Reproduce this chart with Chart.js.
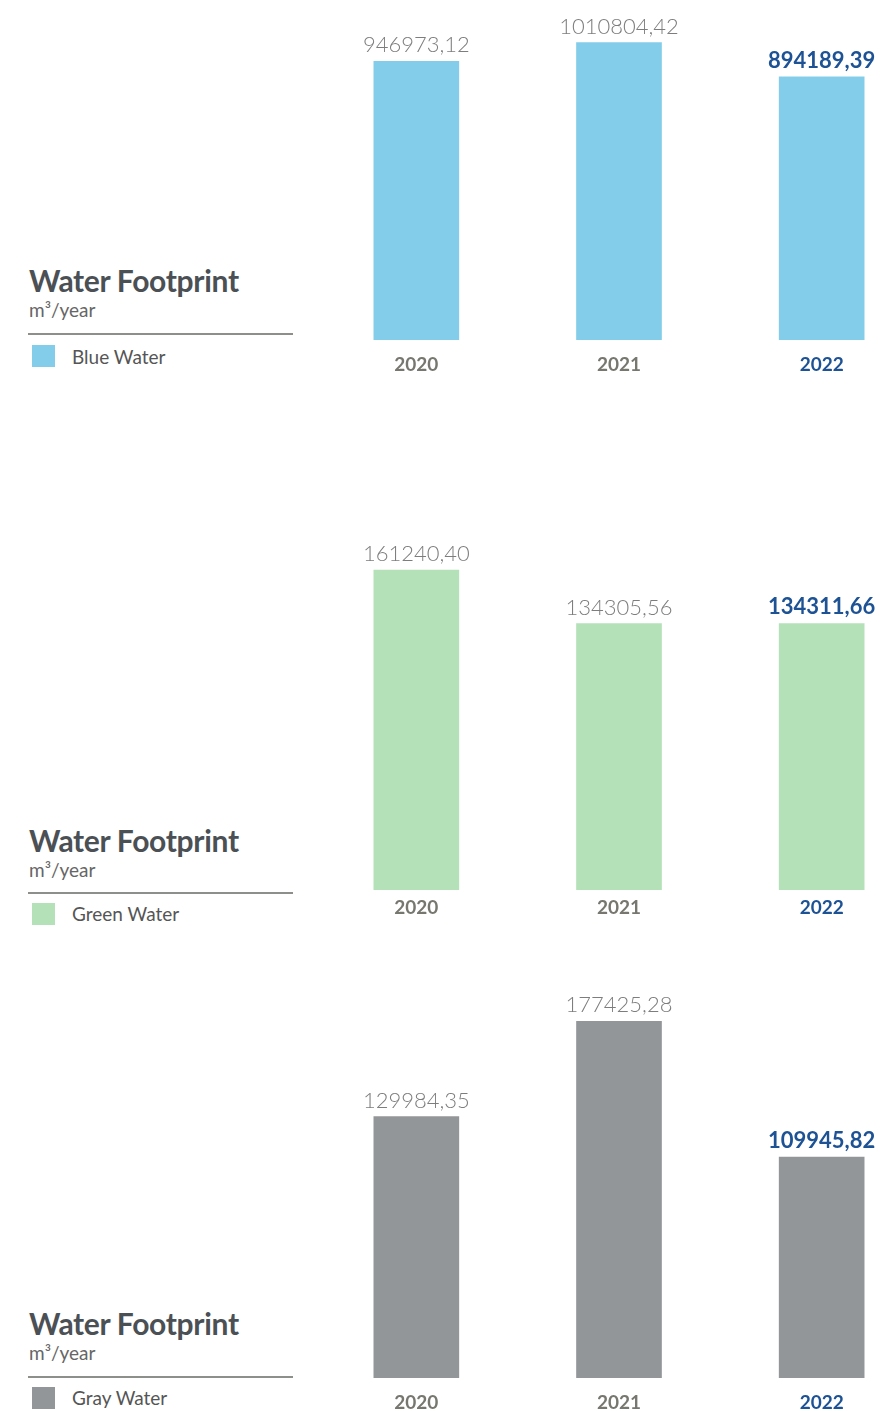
<!DOCTYPE html>
<html>
<head>
<meta charset="utf-8">
<script src="https://cdn.jsdelivr.net/npm/chart.js@4/dist/chart.umd.min.js"></script>
<style>
  html, body { margin: 0; padding: 0; background: #fff; overflow: hidden; }
  body { width: 889px; height: 1411px; position: relative; font-family: Lato, "Open Sans", sans-serif; }
  .box { position: absolute; left: 315px; width: 608px; }
  .title { position: absolute; left: 29px; font-size: 30px; font-weight: 700; color: #4b5055; line-height: 34px; letter-spacing: -0.3px; }
  .unit { position: absolute; left: 29px; font-size: 19px; color: #666; line-height: 24px; }
  .rule { position: absolute; left: 28px; width: 265px; height: 2px; background: #8c8f8a; }
  .sw { position: absolute; left: 32px; width: 23px; height: 22px; }
  .lab { position: absolute; left: 72px; font-size: 19px; color: #555; line-height: 24px; }
</style>
</head>
<body>

<!-- bloques de leyenda -->
<div class="title" style="top:263px">Water Footprint</div>
<div class="unit" style="top:298px">m³/year</div>
<div class="rule" style="top:333px"></div>
<div class="sw" style="top:345px;background:#84cdea"></div>
<div class="lab" style="top:345px">Blue Water</div>

<div class="title" style="top:823px">Water Footprint</div>
<div class="unit" style="top:858px">m³/year</div>
<div class="rule" style="top:892px"></div>
<div class="sw" style="top:903px;background:#b4e1b8"></div>
<div class="lab" style="top:902px">Green Water</div>

<div class="title" style="top:1306px">Water Footprint</div>
<div class="unit" style="top:1341px">m³/year</div>
<div class="rule" style="top:1376px"></div>
<div class="sw" style="top:1387px;background:#939699"></div>
<div class="lab" style="top:1386px">Gray Water</div>

<div class="box" style="top:0px;height:380px"><canvas id="c1"></canvas></div>
<div class="box" style="top:440px;height:490px"><canvas id="c2"></canvas></div>
<div class="box" style="top:960px;height:458px"><canvas id="c3"></canvas></div>

<script>
// datos
const years = ['2020', '2021', '2022'];
const blueWater = [946973.12, 1010804.42, 894189.39];
const greenWater = [161240.40, 134305.56, 134311.66];
const grayWater = [129984.35, 177425.28, 109945.82];

const grisTexto = '#7d7d7d';
const azulTexto = '#1d5294';

// etiquetas encima de cada barra
const valueLabels = {
  id: 'valueLabels',
  afterDatasetsDraw(chart) {
    const ctx = chart.ctx;
    const meta = chart.getDatasetMeta(0);
    const data = chart.data.datasets[0].data;
    ctx.save();
    ctx.textAlign = 'center';
    ctx.textBaseline = 'alphabetic';
    meta.data.forEach((bar, i) => {
      const last = i === data.length - 1;
      ctx.font = last ? '700 22px Lato' : '300 22px Lato';
      ctx.fillStyle = last ? azulTexto : grisTexto;
      ctx.fillText(data[i].toFixed(2).replace('.', ','), bar.x, bar.y - 9);
    });
    ctx.restore();
  }
};

function makeChart(id, values, color, yMax, tickPad) {
  return new Chart(document.getElementById(id), {
    type: 'bar',
    data: {
      labels: years,
      datasets: [{ data: values, backgroundColor: color, barThickness: 85 }]
    },
    options: {
      responsive: true,
      maintainAspectRatio: false,
      animation: false,
      layout: { padding: 0 },
      plugins: { legend: { display: false }, tooltip: { enabled: false } },
      scales: {
        y: { display: false, min: 0, max: yMax },
        x: {
          grid: { display: false, drawTicks: false },
          border: { display: false },
          afterFit(scale) { scale.height = 40; },
          ticks: {
            padding: tickPad,
            font: { family: 'Lato', size: 19, weight: '700' },
            color: (c) => c.index === 2 ? azulTexto : '#77776f'
          }
        }
      }
    },
    plugins: [valueLabels]
  });
}

makeChart('c1', blueWater, '#84cdea', 1155755, 13);
makeChart('c2', greenWater, '#b4e1b8', 226790, 6);
makeChart('c3', grayWater, '#939699', 207930, 13);
</script>
</body>
</html>
